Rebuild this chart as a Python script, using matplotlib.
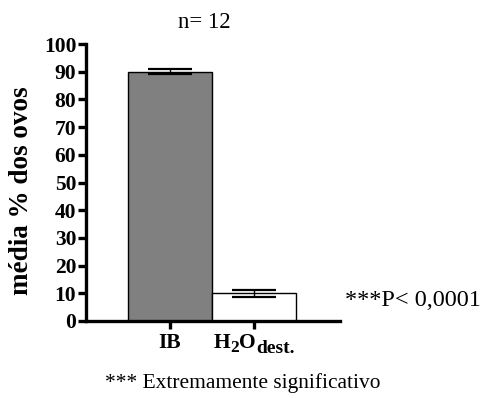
import matplotlib
matplotlib.use("Agg")
import matplotlib.pyplot as plt
from matplotlib.transforms import blended_transform_factory

plt.rcParams["font.family"] = ["Liberation Serif", "DejaVu Serif"]

categories = ["IB", "H2Odest."]
means = [90.0, 10.0]
errors = [1.0, 1.2]
colors = ["#808080", "#ffffff"]
yticks = [0, 10, 20, 30, 40, 50, 60, 70, 80, 90, 100]

fig = plt.figure(figsize=(4.87, 3.98), dpi=100)
ax = fig.add_axes([86 / 487, 1 - 321 / 398, (340 - 86) / 487, (321 - 44) / 398])

x = list(range(len(categories)))
ax.bar(x, means, width=1.0, color=colors, edgecolor="black", linewidth=1.0, zorder=2)
ax.errorbar(x, means, yerr=errors, fmt="none", ecolor="black", elinewidth=1.0,
            capsize=16, capthick=1.6, zorder=3)

ax.set_xlim(-1.0, 2.02)
ax.set_ylim(0, 100)
ax.set_yticks(yticks)
ax.set_yticklabels([str(v) for v in yticks], fontsize=15.5, fontweight="bold")
ax.set_xticks(x)
ax.set_xticklabels(["", ""])

for side in ("top", "right"):
    ax.spines[side].set_visible(False)
for side in ("left", "bottom"):
    ax.spines[side].set_linewidth(2.4)
ax.spines["left"].set_bounds(0, 100)
ax.tick_params(axis="both", width=2.4, length=6, pad=1, direction="out")

# Category labels: built from pieces so the subscripts keep a large size
trans = blended_transform_factory(ax.transData, ax.transAxes)
main_fs = 15.5
base_y = -19.5                 # baseline below the axis, in points
desc = 0.217 * main_fs          # descent of the main-size text, in points

kw = dict(textcoords="offset points", fontweight="bold", annotation_clip=False,
          ha="left", va="baseline")
ax.annotate(categories[0], xy=(x[0], 0), xycoords=trans, xytext=(0, base_y),
            **{**kw, "ha": "center"}, fontsize=main_fs)

t1 = ax.annotate("H", xy=(x[1], 0), xycoords=trans, xytext=(0, base_y),
                 fontsize=main_fs, **kw)
pieces = [t1]
for txt, fs, drop in [("2", 12.5, 2.5), ("O", main_fs, 0.0), ("dest.", 14.0, 3.2)]:
    t = ax.annotate(txt, xy=(1, 0), xycoords=(pieces[-1], t1),
                    xytext=(0, desc - drop), fontsize=fs, **kw)
    pieces.append(t)

fig.canvas.draw()
r = fig.canvas.get_renderer()
left = pieces[0].get_window_extent(r).x0
right = pieces[-1].get_window_extent(r).x1
width_pts = (right - left) * 72.0 / fig.dpi
t1.xyann = (-width_pts / 2.0, base_y)

fig.text(22 / 487, 1 - 191 / 398, "média % dos ovos", fontsize=19.5,
         fontweight="bold", rotation=90, ha="center", va="center")
fig.text(204 / 487, 1 - 22 / 398, "n= 12", fontsize=16.5, ha="center", va="center")
fig.text(345 / 487, 1 - 301 / 398, "***P< 0,0001", fontsize=17.5,
         ha="left", va="center")
fig.text(243 / 487, 1 - 383 / 398, "*** Extremamente significativo", fontsize=15.4,
         ha="center", va="center")

fig.savefig("out.png", dpi=100)
